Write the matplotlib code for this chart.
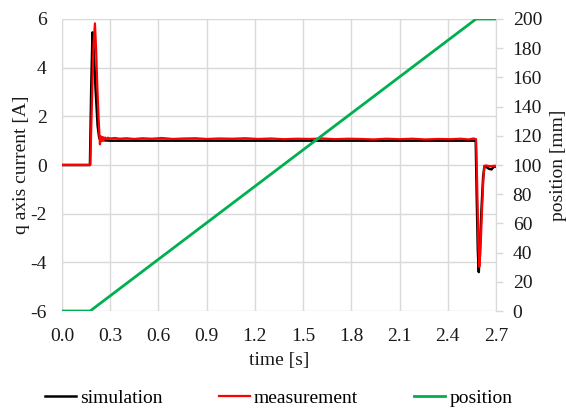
import matplotlib.pyplot as plt

plt.rcParams['font.family'] = ['Liberation Serif', 'DejaVu Serif']
plt.rcParams['font.size'] = 14
plt.rcParams['axes.unicode_minus'] = False

# simulation (q axis current, A)
sim_t = [0.0, 0.174, 0.182, 0.190, 0.198, 0.210, 0.222, 0.232, 0.240, 0.250, 0.270,
         0.300, 0.600, 0.900, 1.200, 1.500, 1.800, 2.100, 2.400, 2.574,
         2.580, 2.587, 2.593, 2.600, 2.610, 2.620, 2.628, 2.640, 2.655, 2.672, 2.685, 2.700]
sim_i = [0.0, 0.0, 3.2, 5.45, 4.6, 3.0, 1.6, 1.1, 1.05, 1.02, 1.01,
         1.0, 1.0, 1.0, 1.0, 1.0, 1.0, 1.0, 1.0, 1.0,
         -1.2, -3.5, -4.4, -3.4, -1.8, -0.5, -0.05, -0.08, -0.15, -0.18, -0.08, -0.06]

# measurement (q axis current, A)
meas_t = [0.0, 0.176, 0.186, 0.196, 0.205, 0.212, 0.220, 0.228, 0.236, 0.242, 0.248,
          0.254, 0.260, 0.268, 0.276, 0.285, 0.300, 0.330, 0.360, 0.400, 0.450,
          0.500, 0.560, 0.620, 0.690, 0.760, 0.830, 0.900, 0.980, 1.060, 1.140,
          1.220, 1.300, 1.380, 1.460, 1.540, 1.620, 1.700, 1.780, 1.860, 1.940,
          2.020, 2.100, 2.180, 2.260, 2.340, 2.420, 2.480, 2.530, 2.560, 2.576,
          2.583, 2.590, 2.596, 2.603, 2.612, 2.621, 2.628, 2.640, 2.660, 2.680, 2.700]
meas_i = [0.0, 0.0, 2.5, 4.9, 5.82, 4.8, 3.2, 1.9, 0.85, 1.18, 0.98,
          1.15, 1.03, 1.13, 1.06, 1.12, 1.09, 1.11, 1.08, 1.10, 1.07,
          1.10, 1.08, 1.11, 1.07, 1.09, 1.10, 1.07, 1.09, 1.08, 1.10,
          1.07, 1.09, 1.06, 1.08, 1.07, 1.09, 1.06, 1.08, 1.07, 1.05,
          1.08, 1.06, 1.08, 1.05, 1.07, 1.06, 1.08, 1.05, 1.09, 1.06,
          -0.8, -3.2, -4.18, -3.6, -2.0, -0.6, -0.03, -0.02, -0.05, -0.04, -0.03]

# position (mm)
pos_t = [0.0, 0.175, 2.576, 2.700]
pos_mm = [0.0, 0.0, 200.0, 200.0]

fig = plt.figure(figsize=(5.66, 4.12), dpi=100)
ax = fig.add_axes([0.1095, 0.2451, 0.7668, 0.7088])
ax2 = ax.twinx()

grid_c = '#d9d9d9'
txt_c = '#1a1a1a'

ax.plot(sim_t, sim_i, color='black', lw=1.8, label='simulation', zorder=3)
ax.plot(meas_t, meas_i, color='#ff0000', lw=1.6, label='measurement', zorder=4)
ax2.plot(pos_t, pos_mm, color='#00b050', lw=2.0, label='position')

ax.set_xlim(0, 2.7)
ax.set_ylim(-6, 6)
ax2.set_ylim(0, 200)
ax.set_xticks([0.0, 0.3, 0.6, 0.9, 1.2, 1.5, 1.8, 2.1, 2.4, 2.7])
ax.set_xticklabels(['0.0', '0.3', '0.6', '0.9', '1.2', '1.5', '1.8', '2.1', '2.4', '2.7'])
ax.set_yticks([-6, -4, -2, 0, 2, 4, 6])
ax2.set_yticks(range(0, 201, 20))

ax.grid(True, color=grid_c, lw=1.0, zorder=0)
ax.set_axisbelow(True)
for a in (ax, ax2):
    for s in a.spines.values():
        s.set_visible(False)
ax2.spines['right'].set_visible(True)
ax2.spines['right'].set_color(grid_c)
ax.spines['left'].set_visible(True)
ax.spines['left'].set_color(grid_c)
ax.tick_params(axis='y', length=0, pad=11, colors=txt_c)
ax.tick_params(axis='x', length=0, pad=12, colors=txt_c)
ax2.tick_params(axis='y', length=5, width=1, color=grid_c, labelcolor=txt_c, pad=7)

ax.set_xlabel('time [s]', color=txt_c, labelpad=5)
ax.set_ylabel('q axis current [A]', color=txt_c, labelpad=0)
ax2.set_ylabel('position [mm]', color=txt_c, labelpad=6)

handles = ax.get_lines()[:2] + ax2.get_lines()[:1]
fig.legend(handles, [h.get_label() for h in handles], loc='center',
           bbox_to_anchor=(0.492, 0.033), ncol=3, frameon=False,
           handlelength=1.6, handletextpad=0.2, columnspacing=2.9)

fig.savefig('out.png', dpi=100)
